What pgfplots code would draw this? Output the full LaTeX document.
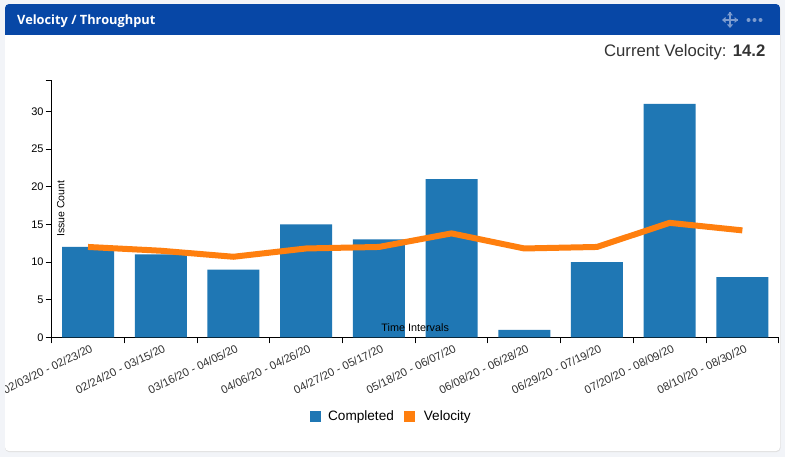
\documentclass[border=0pt]{standalone}
\usepackage{fontspec}
\setmainfont{Liberation Sans}
\newfontfamily\titlefont{Open Sans}
\usepackage{pgfplots}
\pgfplotsset{compat=1.18}
\definecolor{pagebg}{HTML}{F2F4F8}
\definecolor{header}{HTML}{0747A6}
\definecolor{iconc}{HTML}{7C9CCF}
\definecolor{barblue}{HTML}{1F77B4}
\definecolor{lineorange}{HTML}{FF7F0E}
\definecolor{darktext}{HTML}{333333}
\newcommand{\fs}[1]{\fontsize{#1}{#1}\selectfont}
\begin{document}
\begin{tikzpicture}[x=1pt,y=1pt]
\path[use as bounding box] (0,0) rectangle (785,-457);
\fill[pagebg] (0,0) rectangle (785,-457);
% card
\fill[black!12,rounded corners=4pt] (5,-5) rectangle (780.5,-452);
\fill[white,rounded corners=4pt] (5,-4) rectangle (780,-451);
\begin{scope}
\clip[rounded corners=4pt] (5,-4) rectangle (780,-60);
\fill[header] (5,-4) rectangle (780,-35);
\end{scope}
\node[anchor=base west,text=white,inner sep=0pt] at (17,-25) {\titlefont\bfseries\fs{12.8}Velocity / Throughput};
\node[anchor=base east,text=darktext,inner sep=0pt] at (765.5,-57) {\fs{16.7}Current Velocity: \textbf{14.2}};
% header icons
\begin{scope}[iconc,line width=1.3pt]
\draw (722.5,-20) -- (737.5,-20) (730,-12.5) -- (730,-27.5);
\fill (730,-12) -- (727,-15.5) -- (733,-15.5) -- cycle;
\fill (730,-28) -- (727,-24.5) -- (733,-24.5) -- cycle;
\fill (722,-20) -- (725.5,-17) -- (725.5,-23) -- cycle;
\fill (738,-20) -- (734.5,-17) -- (734.5,-23) -- cycle;
\fill (748.5,-20) circle (2pt) (754.5,-20) circle (2pt) (760.5,-20) circle (2pt);
\end{scope}
\begin{axis}[
  at={(51.7pt,-337.4pt)}, anchor=south west,
  scale only axis,
  width=727pt, height=257pt,
  xmin=-0.5, xmax=9.5,
  ymin=0, ymax=34.1,
  axis x line*=bottom, axis y line*=left,
  axis line style={black,line width=0.9pt,-},
  clip=false,
  xtick={0,...,9},
  xticklabels={02/03/20 - 02/23/20,02/24/20 - 03/15/20,03/16/20 - 04/05/20,04/06/20 - 04/26/20,04/27/20 - 05/17/20,05/18/20 - 06/07/20,06/08/20 - 06/28/20,06/29/20 - 07/19/20,07/20/20 - 08/09/20,08/10/20 - 08/30/20},
  minor xtick={-0.5,0.5,...,9.5},
  ytick={0,5,...,30},
  minor ytick={34.1},
  major x tick style={draw=none},
  major tick length=6pt, minor tick length=6pt,
  tick align=outside,
  tick style={black,line width=0.9pt},
  minor tick style={black,line width=0.9pt},
  x tick label style={rotate=26,anchor=east,font=\fs{11.3},text=darktext,inner sep=0pt,yshift=-5.5pt,xshift=1.5pt},
  y tick label style={font=\fs{11},inner sep=0pt,xshift=-2pt},
  /pgf/number format/assume math mode=true,
  xlabel={Time Intervals},
  xlabel style={at={(axis description cs:0.5,0.039)},anchor=center,font=\fs{10.8},inner sep=0pt},
  ylabel={Issue Count},
  ylabel style={at={(axis description cs:0.0125,0.5)},rotate=0,anchor=center,font=\fs{10.5},inner sep=0pt},
  legend columns=2,
  legend style={draw=none,fill=none,font=\fs{13.6},anchor=center,
    at={(axis description cs:0.468,-0.308)},
    /tikz/every even column/.append style={column sep=7pt},
    nodes={inner xsep=3.5pt},
    legend cell align=left},
]
\addplot[ybar,bar width=52pt,fill=barblue,draw=none,
  legend image code/.code={\path[fill=barblue,draw=none] (0pt,-5.5pt) rectangle (11pt,5.5pt); \path (15pt,0pt);}]
  coordinates {(0,12) (1,11) (2,9) (3,15) (4,13) (5,21) (6,1) (7,10) (8,31) (9,8)};
\addlegendentry{Completed}
\addplot[lineorange,line width=6pt,sharp plot,no marks,
  legend image code/.code={\path[fill=lineorange,draw=none] (0pt,-5.5pt) rectangle (11pt,5.5pt); \path (13pt,0pt);}]
  coordinates {(0,12) (1,11.5) (2,10.7) (3,11.8) (4,12) (5,13.8) (6,11.8) (7,12) (8,15.2) (9,14.2)};
\addlegendentry{Velocity}
\end{axis}
% card edge cuts off the first tick label
\fill[pagebg] (0,-340) rectangle (5,-420);
\end{tikzpicture}
\end{document}
